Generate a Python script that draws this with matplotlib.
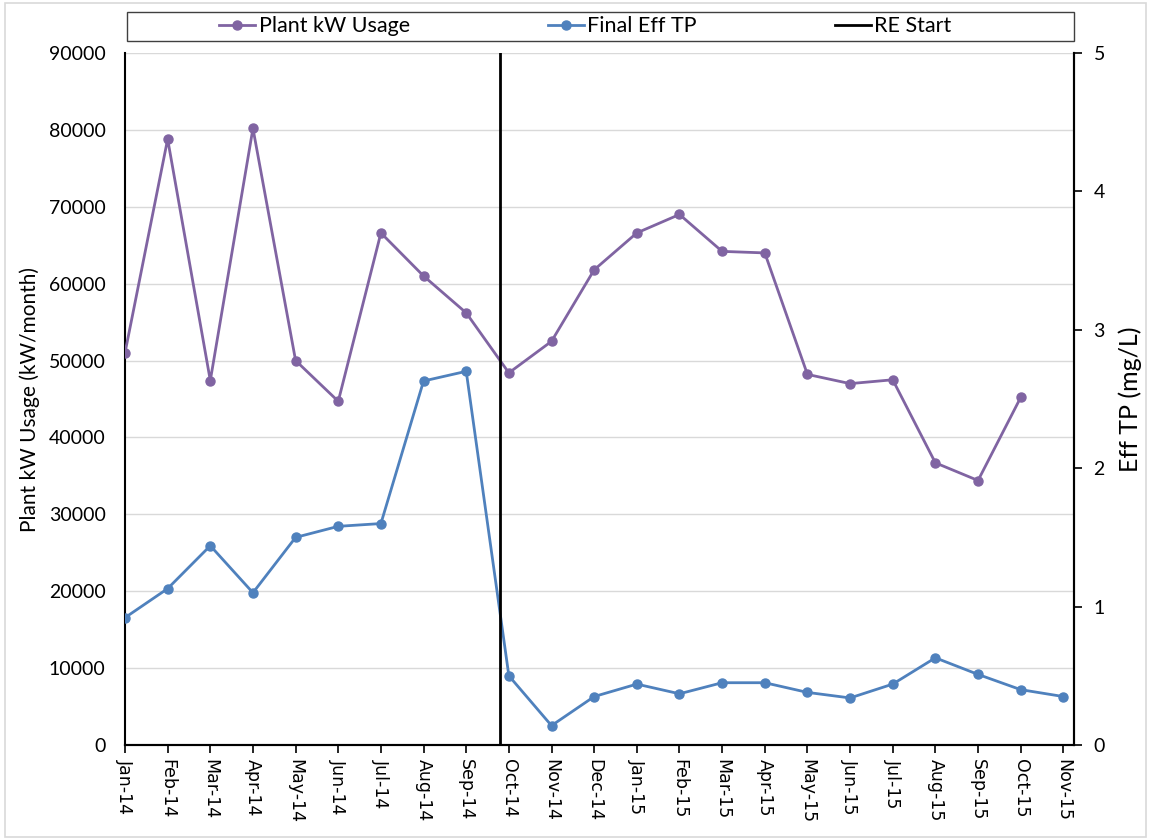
import matplotlib
matplotlib.use("Agg")
import matplotlib.pyplot as plt
from matplotlib.lines import Line2D
from matplotlib.patches import Rectangle

months = ["Jan-14", "Feb-14", "Mar-14", "Apr-14", "May-14", "Jun-14", "Jul-14",
          "Aug-14", "Sep-14", "Oct-14", "Nov-14", "Dec-14", "Jan-15", "Feb-15",
          "Mar-15", "Apr-15", "May-15", "Jun-15", "Jul-15", "Aug-15", "Sep-15",
          "Oct-15", "Nov-15"]
kw_usage = [51000, 78800, 47400, 80200, 50000, 44700, 66600, 61000, 56200,
            48400, 52500, 61800, 66600, 69000, 64200, 64000, 48200, 47000,
            47500, 36700, 34400, 45200]
eff_tp = [0.92, 1.13, 1.44, 1.10, 1.50, 1.58, 1.60, 2.63, 2.70, 0.50, 0.14,
          0.35, 0.44, 0.37, 0.45, 0.45, 0.38, 0.34, 0.44, 0.63, 0.51, 0.40, 0.35]
re_start = 8.8  # between Sep-14 and Oct-14

PURPLE = "#8064A2"
BLUE = "#4F81BD"
FONT = ["Lato", "DejaVu Sans"]

fig = plt.figure(figsize=(11.51, 8.40), dpi=100)
fig.patches.append(Rectangle((0.004, 0.004), 0.992, 0.992, transform=fig.transFigure,
                             fill=False, edgecolor="#D9D9D9", linewidth=1.2))
ax = fig.add_axes([0.1086, 0.1131, 0.8245, 0.8238])
ax2 = ax.twinx()

x_kw = list(range(len(kw_usage)))
x_tp = list(range(len(eff_tp)))

ax.plot(x_kw, kw_usage, color=PURPLE, lw=2, marker="o", ms=6.5, zorder=3)
ax2.plot(x_tp, eff_tp, color=BLUE, lw=2, marker="o", ms=6.5, zorder=3)
ax2.axvline(re_start, color="black", lw=2, zorder=4)

ax.set_xlim(0, 22.25)
ax.set_ylim(0, 90000)
ax2.set_ylim(0, 5)
ax.set_yticks(range(0, 90001, 10000))
ax2.set_yticks(range(0, 6))
ax.grid(axis="y", color="#D9D9D9", lw=1)
ax.set_axisbelow(True)

ax.set_xticks(x_tp)
ax.set_xticklabels(months, rotation=-90, fontsize=12.5, family="DejaVu Sans")
ax.tick_params(axis="x", direction="out", length=6, width=1.2, pad=4)
ax.tick_params(axis="y", length=0, pad=14, labelsize=14)
ax2.tick_params(axis="y", direction="out", length=6, width=1.2, pad=8, labelsize=14)
for lbl in ax.get_yticklabels() + ax2.get_yticklabels():
    lbl.set_family(FONT)

for a in (ax, ax2):
    a.spines["top"].set_visible(False)
    a.spines["left"].set_linewidth(1.5)
    a.spines["right"].set_linewidth(1.5)
    a.spines["bottom"].set_linewidth(1.5)
ax2.spines["left"].set_visible(False)

ax.set_ylabel("Plant kW Usage (kW/month)", fontsize=15, family=FONT, labelpad=6)
ax2.set_ylabel("Eff TP (mg/L)", fontsize=18, family=FONT, labelpad=10)

# legend box spanning the plot width, entries centred inside it
ax.add_patch(Rectangle((0.002, 1.018), 0.998, 0.041, transform=ax.transAxes,
                       fill=False, edgecolor="#404040", lw=1, clip_on=False))
handles = [
    Line2D([], [], color=PURPLE, lw=2, marker="o", ms=6.5),
    Line2D([], [], color=BLUE, lw=2, marker="o", ms=6.5),
    Line2D([], [], color="black", lw=2),
]
ax.legend(handles, ["Plant kW Usage", "Final Eff TP", "RE Start"], ncol=3,
          loc="center", bbox_to_anchor=(0.485, 1.0385), frameon=False,
          handlelength=1.7, handletextpad=0.15, columnspacing=6.4, borderpad=0,
          prop={"family": FONT, "size": 15.5})

fig.savefig("out.png", dpi=100)
